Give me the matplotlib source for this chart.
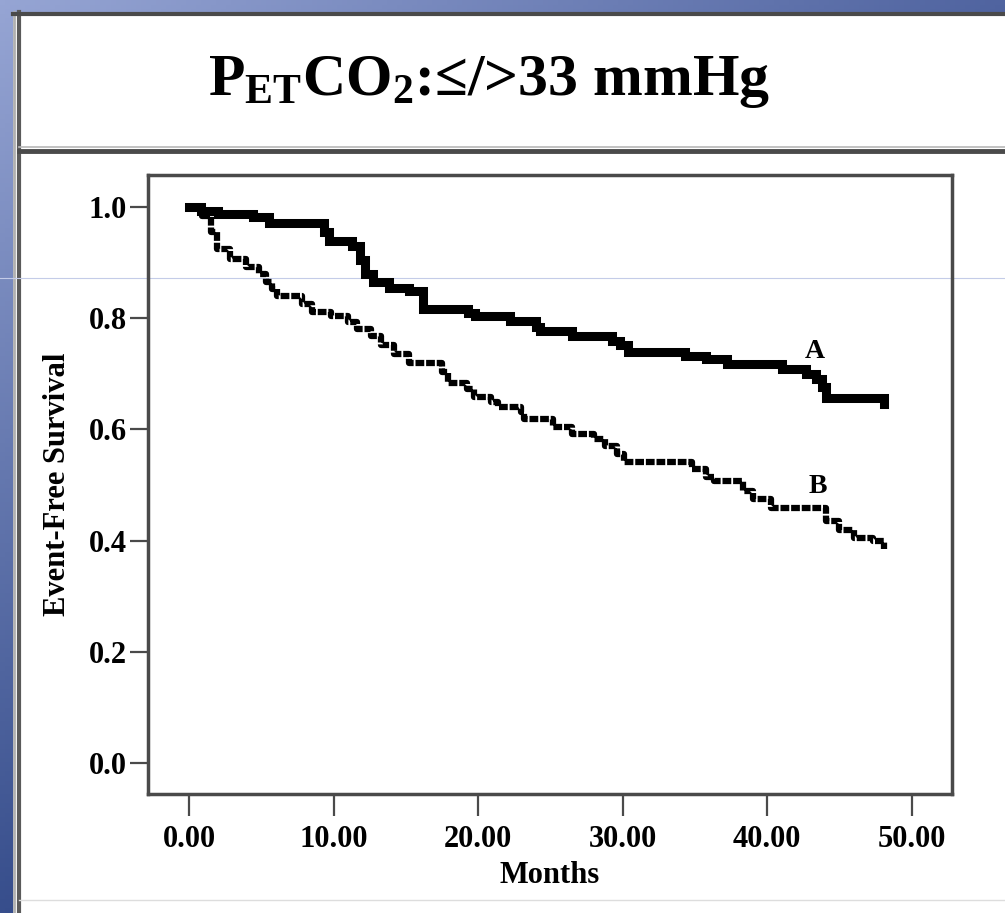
import numpy as np
import matplotlib.pyplot as plt

plt.rcParams['mathtext.fontset'] = 'custom'
plt.rcParams['mathtext.rm'] = 'Liberation Serif:bold'
plt.rcParams['mathtext.bf'] = 'Liberation Serif:bold'
plt.rcParams['mathtext.it'] = 'Liberation Serif:bold'

# Kaplan-Meier steps (months, event-free survival)
months_a = [0, 0.8, 2.0, 4.4, 5.5, 9.3, 9.7, 11.3, 11.8, 12.2, 12.7, 13.8, 15.2,
            16.2, 19.3, 19.8, 22.2, 24.0, 24.3, 26.5, 29.3, 29.8, 30.4, 34.3,
            35.8, 37.2, 41.0, 42.7, 43.4, 43.8, 44.1, 48.1, 48.1]
surv_a = [1.0, 0.993, 0.987, 0.982, 0.972, 0.955, 0.94, 0.93, 0.905, 0.88, 0.865,
          0.855, 0.849, 0.816, 0.81, 0.804, 0.795, 0.785, 0.778, 0.768, 0.76,
          0.752, 0.74, 0.733, 0.726, 0.718, 0.708, 0.70, 0.69, 0.677, 0.656,
          0.656, 0.645]

months_b = [0, 0.9, 1.5, 1.9, 2.8, 3.9, 4.8, 5.3, 5.7, 6.1, 7.8, 8.5, 9.8, 11.0,
            11.6, 12.6, 13.3, 14.2, 15.2, 17.5, 17.9, 19.2, 19.7, 20.9, 21.4,
            23.0, 23.2, 25.2, 26.5, 28.0, 28.8, 29.6, 30.1, 34.8, 35.8, 36.3,
            38.3, 39.0, 40.3, 44.1, 45.0, 46.0, 47.3, 48.1, 48.1]
surv_b = [1.0, 0.985, 0.955, 0.925, 0.906, 0.893, 0.88, 0.866, 0.853, 0.84, 0.826,
          0.812, 0.804, 0.793, 0.78, 0.768, 0.752, 0.735, 0.72, 0.703, 0.683,
          0.672, 0.658, 0.65, 0.64, 0.632, 0.618, 0.605, 0.592, 0.582, 0.57,
          0.556, 0.542, 0.528, 0.514, 0.508, 0.49, 0.475, 0.458, 0.435, 0.42,
          0.405, 0.40, 0.40, 0.385]

x_ticks = [0, 10, 20, 30, 40, 50]
y_ticks = [0.0, 0.2, 0.4, 0.6, 0.8, 1.0]

W, H = 1005, 913
fig = plt.figure(figsize=(W / 100, H / 100), dpi=100)

# slide background: blue gradient with a white panel on top
bg = fig.add_axes([0, 0, 1, 1])
xx, yy = np.meshgrid(np.linspace(0, 1, 200), np.linspace(0, 1, 200))
tl = np.array([150, 165, 212]) / 255
tr = np.array([80, 100, 160]) / 255
bl = np.array([55, 78, 140]) / 255
grad = tl + (tr - tl) * xx[..., None] + (bl - tl) * yy[..., None]
bg.imshow(np.clip(grad, 0, 1), extent=[0, W, H, 0], aspect='auto')
bg.add_patch(plt.Rectangle((13, 12), W, H, facecolor='white', edgecolor='none'))
bg.plot([19, 19], [12, H], color='#5a5a5a', lw=3)
bg.plot([14, 14], [12, H], color='#b0b0b0', lw=2)
bg.plot([13, W], [14, 14], color='#4a4a4a', lw=3)
bg.plot([19, W], [151, 151], color='#4a4a4a', lw=3.5)
bg.plot([19, W], [147, 147], color='#b8b8b8', lw=1.2)
bg.plot([19, W], [900, 900], color='#dddddd', lw=1)
bg.plot([0, W], [278, 278], color='#c4cce8', lw=0.8)
bg.set_xlim(0, W)
bg.set_ylim(H, 0)
bg.axis('off')

bg.text(489, 82, r'$\mathrm{P_{ET}CO_2}$:≤/>33 mmHg', ha='center', va='center',
        fontsize=43, fontweight='bold', family=['Liberation Serif', 'DejaVu Serif'])

# survival chart
ax = fig.add_axes([148 / W, 1 - 794 / H, (952 - 148) / W, (794 - 175) / H])
ax.set_facecolor('none')
ax.step(months_a, surv_a, where='post', color='black', lw=6.5, solid_joinstyle='miter')
ax.step(months_b, surv_b, where='post', color='black', lw=4.5,
        linestyle=(0, (1.4, 0.3)), dash_capstyle='butt')

ax.text(43.3, 0.74, 'A', fontsize=20, fontweight='bold', family='Liberation Serif',
        ha='center', va='center')
ax.text(43.5, 0.497, 'B', fontsize=20, fontweight='bold', family='Liberation Serif',
        ha='center', va='center')

ax.set_xlim(-2.85, 52.8)
ax.set_ylim(-0.056, 1.058)
ax.set_xticks(x_ticks)
ax.set_xticklabels([f'{v:.2f}' for v in x_ticks])
ax.set_yticks(y_ticks)
ax.set_yticklabels([f'{v:.1f}' for v in y_ticks])
for s in ax.spines.values():
    s.set_color('#4a4a4a')
    s.set_linewidth(2.5)
ax.tick_params(axis='x', length=16, width=1.6, color='#4a4a4a', pad=6)
ax.tick_params(axis='y', length=13, width=1.6, color='#4a4a4a', pad=2)
for lbl in ax.get_xticklabels():
    lbl.set_fontsize(22)
    lbl.set_fontweight('bold')
    lbl.set_family('Liberation Serif')
for lbl in ax.get_yticklabels():
    lbl.set_fontsize(22)
    lbl.set_fontweight('bold')
    lbl.set_family('Liberation Serif')

ax.set_xlabel('Months', fontsize=22, fontweight='bold', family='Liberation Serif')
ax.xaxis.set_label_coords(0.5, -0.108)
ax.set_ylabel('Event-Free Survival', fontsize=22, fontweight='bold',
              family='Liberation Serif')
ax.yaxis.set_label_coords(-0.095, 0.5)

fig.savefig('out.png', dpi=100)
